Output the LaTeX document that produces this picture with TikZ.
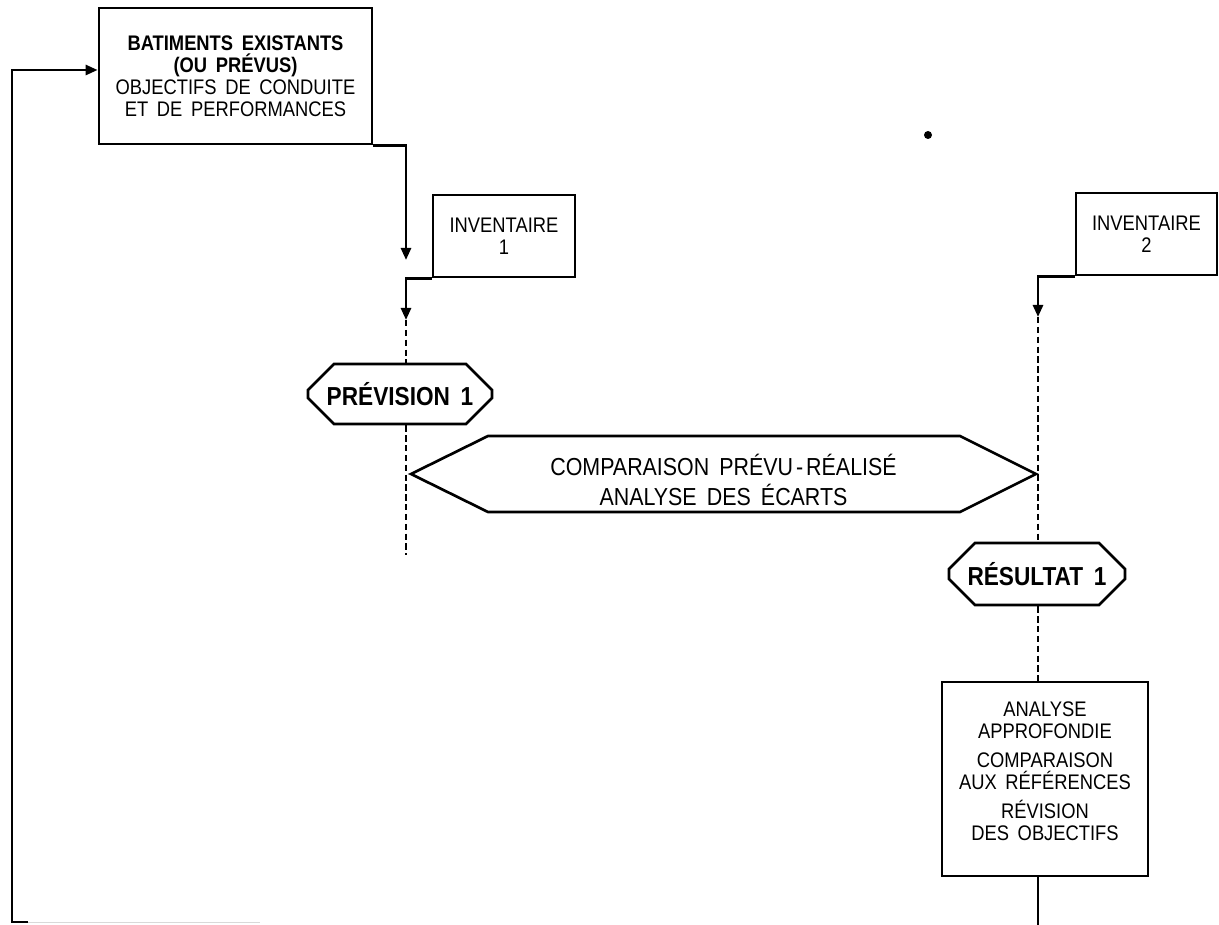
\documentclass[tikz,border=0pt]{standalone}
\usepackage{fontspec}
\setmainfont[WordSpace=1.7,FakeStretch=0.87]{Liberation Sans}
\usetikzlibrary{arrows.meta,shapes.misc}
\tikzset{
	box/.style={draw, line width=1.9pt, align=center, inner sep=0pt, font=\fontsize{15}{15.6}\selectfont},
	octo/.style={box, chamfered rectangle, chamfered rectangle sep=0.36cm, font=\fontsize{18.5}{20}\selectfont},
	flow/.style={line width=1.9pt, -{Triangle[length=0.3cm,width=0.25cm]}},
	trace/.style={line width=1.1pt, dash pattern=on 4.5pt off 2.5pt},
}
\begin{document}
\begin{tikzpicture}[x=0.025cm,y=-0.025cm]
		\useasboundingbox (0,0) rectangle (1219,925);
		\node[box, minimum width=6.825cm, minimum height=3.4cm] (batiments) at (235.5,76) {\textbf{BATIMENTS EXISTANTS}\\\textbf{(OU PRÉVUS)}\\OBJECTIFS DE CONDUITE\\ET DE PERFORMANCES};
		\node[box, minimum width=3.55cm, minimum height=2.05cm] (inv1) at (504,236) {INVENTAIRE\\1};
		\node[box, minimum width=3.525cm, minimum height=2.05cm] (inv2) at (1146.5,234) {INVENTAIRE\\2};
		\node[octo, minimum width=4.6cm, minimum height=1.5cm] (prev) at (400,394) {\textbf{PRÉVISION 1}};
		\node[octo, minimum width=4.4cm, minimum height=1.55cm] (res) at (1037,574) {\textbf{RÉSULTAT 1}};
		\node[box, minimum width=5.15cm, minimum height=4.85cm] (ana) at (1045,779) {ANALYSE\\APPROFONDIE\\[5pt]COMPARAISON\\AUX RÉFÉRENCES\\[5pt]RÉVISION\\DES OBJECTIFS\\[-4pt]\mbox{}};
		% comparaison
		\draw[line width=1.9pt] (411,474) -- (488,436) -- (960,436) -- (1036,474) -- (960,512) -- (488,512) -- cycle;
		\node[align=center, font=\fontsize{17.5}{21}\selectfont] (comp) at (723.5,480) {COMPARAISON PRÉVU\hspace{0.12em}-\hspace{0.12em}RÉALISÉ\\ANALYSE DES ÉCARTS};
		% left column
		\coordinate (a0) at (406,260);
		\coordinate (a1) at (406,320);
		\coordinate (e1) at (406,555);
		\draw[flow] (batiments.south east) -| (a0);
		\draw[flow] (inv1.south west) -| (a1);
		\draw[trace] (a1) -- (a1 |- prev.north);
		\draw[trace] (a1 |- prev.south) -- (e1);
		% right column
		\coordinate (b1) at (1038,317);
		\coordinate (e2) at (1038,925);
		\draw[flow] (inv2.south west) -| (b1);
		\draw[trace] (b1) -- (b1 |- res.north);
		\draw[trace] (b1 |- res.south) -- (b1 |- ana.north);
		\draw[line width=1.9pt] (b1 |- ana.south) -- (e2);
		% return
		\coordinate (r0) at (28,922);
		\draw[gray!30, line width=0.6pt] (r0) -- (260,922);
		\draw[flow] (r0) -- (12,922) |- (batiments.west |- 0,70);
		\fill (928,135) circle (4);
	\end{tikzpicture}
\end{document}
